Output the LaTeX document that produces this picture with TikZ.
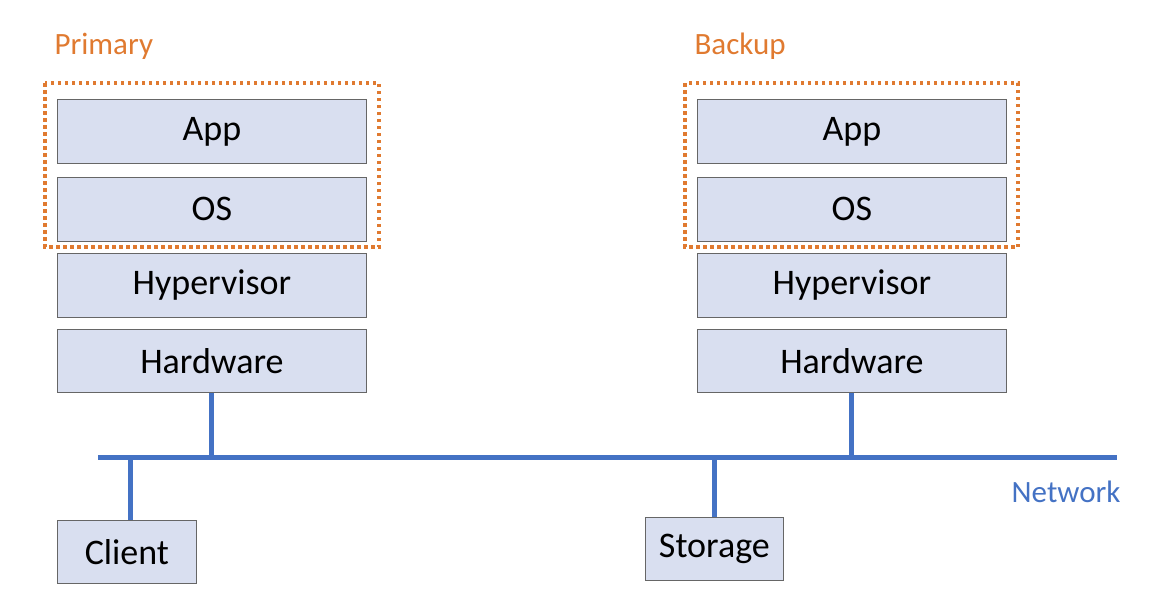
\documentclass[tikz,border=0pt]{standalone}
\usepackage{fontspec}
\setmainfont{Carlito}
\begin{document}
\begin{tikzpicture}[x=1pt,y=-1pt,
  layer/.style={draw=black!60,line width=0.8pt,fill=boxfill,font=\fontsize{36}{40}\selectfont},
  net/.style={draw=netblue,line width=5pt},
  grp/.style={draw=orangec,line width=3.5pt,dash pattern=on 3.5pt off 3.5pt},
  lbl/.style={font=\fontsize{31}{35}\selectfont}]
\definecolor{boxfill}{HTML}{D9DFF0}
\definecolor{netblue}{HTML}{4472C4}
\definecolor{orangec}{HTML}{E07A30}
\useasboundingbox (0,0) rectangle (1156,614);
\foreach \s/\x in {p/57,b/697}{
  \node[layer,minimum width=309pt,minimum height=64pt,anchor=north west] (app\s) at (\x,99) {App};
  \node[layer,minimum width=309pt,minimum height=64pt,anchor=north west] (os\s) at (\x,177) {OS};
  \node[layer,minimum width=309pt,minimum height=64pt,anchor=north west] (hv\s) at (\x,253) {Hypervisor};
  \node[layer,minimum width=309pt,minimum height=63pt,anchor=north west] (hw\s) at (\x,329) {Hardware};
}
\draw[grp] (45,83) rectangle (379,247);
\draw[grp] (685,83) rectangle (1018,247);
\node[lbl,text=orangec,anchor=west] (prim) at (51,46) {Primary};
\node[lbl,text=orangec,anchor=west] (back) at (691,46) {Backup};
\coordinate (nl) at (98,457);
\coordinate (nr) at (1117,457);
\draw[net] (nl) -- (nr);
\node[layer,minimum width=139pt,minimum height=63pt,anchor=north west] (client) at (57,520) {Client};
\node[layer,minimum width=138pt,minimum height=63pt,anchor=north west] (stor) at (645,517) {Storage};
\draw[net] (hwp.south -| 211,0) -- (211,457);
\draw[net] (hwb.south -| 851,0) -- (851,457);
\draw[net] (130,457) -- (client.north -| 130,0);
\draw[net] (714,457) -- (stor.north -| 714,0);
\node[lbl,text=netblue,anchor=east] (netl) at (1124,492) {Network};
\end{tikzpicture}
\end{document}
